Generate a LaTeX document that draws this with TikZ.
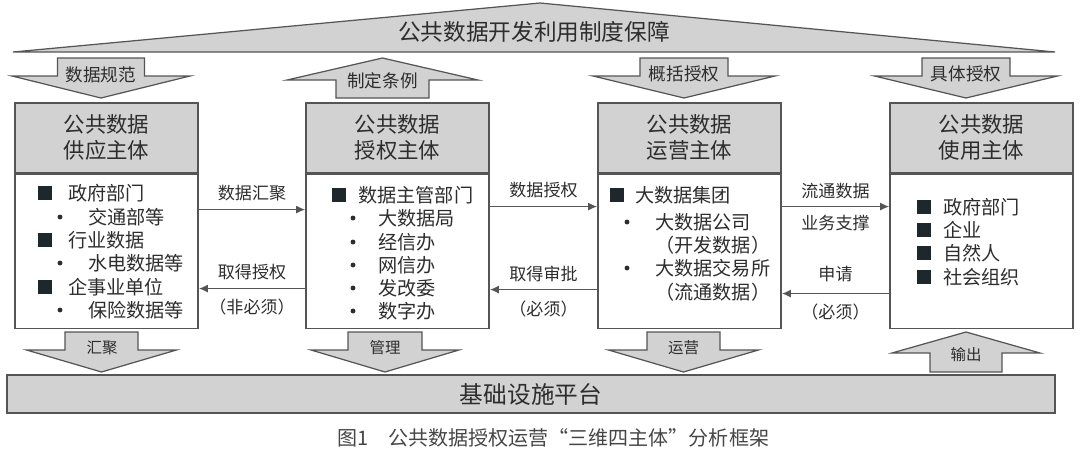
\documentclass[tikz,border=0pt]{standalone}
\usepackage{fontspec}
\setmainfont{Noto Sans CJK SC}
\usepackage{xcolor}
\usetikzlibrary{positioning,arrows.meta,calc}

\definecolor{boxgray}{RGB}{210,210,210}
\definecolor{linegray}{RGB}{85,85,85}
\definecolor{txtgray}{RGB}{45,45,45}
\definecolor{sqcol}{RGB}{30,40,44}
\definecolor{capgray}{RGB}{70,70,70}

% block arrows: centre x, shaft half width, head half width, then three y values
\newcommand{\blkdown}[6]{\draw[blk] (#1-#2,#4) -- (#1+#2,#4) -- (#1+#2,#5) -- (#1+#3,#5) -- (#1,#6) -- (#1-#3,#5) -- (#1-#2,#5) -- cycle;}
\newcommand{\blkup}[6]{\draw[blk] (#1,#4) -- (#1+#3,#5) -- (#1+#2,#5) -- (#1+#2,#6) -- (#1-#2,#6) -- (#1-#2,#5) -- (#1-#3,#5) -- cycle;}

\tikzset{
  blk/.style={draw=linegray, fill=boxgray, line width=0.7pt},
  hdr/.style={draw=linegray, fill=boxgray, line width=0.9pt, minimum width=3.67cm, minimum height=1.4cm,
    inner sep=0pt, align=center, font=\fontsize{12.2}{14.8}\selectfont, text=txtgray},
  bodybox/.style={draw=linegray, fill=white, line width=0.9pt, minimum width=3.67cm, minimum height=3.08cm, inner sep=0pt},
  item/.style={anchor=west, inner sep=0pt, font=\fontsize{10.9}{13}\selectfont, text=txtgray},
  lbl/.style={font=\fontsize{9.7}{12}\selectfont, text=txtgray},
  arrlbl/.style={font=\fontsize{10}{12}\selectfont, text=txtgray, inner sep=0pt},
  smlbl/.style={font=\fontsize{8.8}{11}\selectfont, text=txtgray, inner sep=0pt},
  flow/.style={draw=linegray, line width=0.6pt, -{Latex[length=5pt,width=4.5pt]}},
}

\begin{document}
\begin{tikzpicture}[x=0.02cm, y=-0.02cm]
  \useasboundingbox (0,0) rectangle (1080,450);

  % top banner
  \draw[blk] (13,52) -- (540,3) -- (1055,52) -- cycle;
  \node[font=\fontsize{12.9}{15}\selectfont, text=txtgray] (title) at (534,32) {公共数据开发利用制度保障};

  % top block arrows
  \blkdown{101}{43.5}{89}{58}{76}{98}
  \node[arrlbl] (norm) at (101,75) {数据规范};
  \blkup{382.5}{46.5}{95.5}{58}{80}{98}
  \node[arrlbl] (rule) at (382.5,81) {制定条例};
  \blkdown{684}{44}{91}{58}{76}{98}
  \node[arrlbl] (gen) at (684,74) {概括授权};
  \blkdown{966}{44}{91.5}{58}{76}{98}
  \node[arrlbl] (spec) at (966,74) {具体授权};

  % the four subjects
  \node[hdr, anchor=north west] (supH) at (14,102) {公共数据\\供应主体};
  \node[bodybox, anchor=north] (supB) at (supH.south) {};
  \node[hdr, anchor=north west] (autH) at (305,102) {公共数据\\授权主体};
  \node[bodybox, anchor=north] (autB) at (autH.south) {};
  \node[hdr, anchor=north west] (opeH) at (597,102) {公共数据\\运营主体};
  \node[bodybox, anchor=north] (opeB) at (opeH.south) {};
  \node[hdr, anchor=north west] (useH) at (889,102) {公共数据\\使用主体};
  \node[bodybox, anchor=north] (useB) at (useH.south) {};

  % supply items
  \foreach \t/\yy [count=\i] in {政府部门/193, 行业数据/240, 企事业单位/287} {
    \fill[sqcol] (38,\yy-7) rectangle +(14,14);
    \node[item] (supA\i) at (68,\yy) {\t};
  }
  \foreach \t/\yy [count=\i] in {交通部等/217, 水电数据等/263, 保险数据等/310} {
    \fill[txtgray] (60,\yy) circle (1.4pt);
    \node[item] (supS\i) at (88,\yy) {\t};
  }

  % authorising items
  \fill[sqcol] (332,188) rectangle +(14,14);
  \node[item] (autA) at (358,195) {数据主管部门};
  \foreach \t/\yy [count=\i] in {大数据局/218, 经信办/242, 网信办/265, 发改委/288, 数字办/311} {
    \fill[txtgray] (353,\yy) circle (1.4pt);
    \node[item] (autS\i) at (378,\yy) {\t};
  }

  % operating items
  \fill[sqcol] (610,188) rectangle +(14,14);
  \node[item] (opeA) at (635,195) {大数据集团};
  \fill[txtgray] (627,222) circle (1.4pt);
  \node[item] (opeS1) at (655,222) {大数据公司};
  \node[item] (opeP1) at (655,245) {（开发数据）};
  \fill[txtgray] (627,268) circle (1.4pt);
  \node[item] (opeS2) at (655,268) {大数据交易所};
  \node[item] (opeP2) at (655,292) {（流通数据）};

  % using items
  \foreach \t/\yy [count=\i] in {政府部门/207, 企业/230, 自然人/253, 社会组织/277} {
    \fill[sqcol] (917,\yy-7) rectangle +(14,14);
    \node[item] (useA\i) at (943,\yy) {\t};
  }

  % flows between subjects
  \draw[flow] ($(supB.north east)+(0,36)$) -- node[lbl, above=1pt] (gather) {数据汇聚} ($(autB.north west)+(0,36)$);
  \draw[flow] ($(autB.north west)+(0,115)$) -- node[lbl, above=1.5pt] (getauth) {取得授权}
    node[lbl, below=2pt] (notneed) {（非必须）} ($(supB.north east)+(0,115)$);
  \draw[flow] ($(autB.north east)+(0,33)$) -- node[lbl, above=1pt] (grant) {数据授权} ($(opeB.north west)+(0,33)$);
  \draw[flow] ($(opeB.north west)+(0,116)$) -- node[lbl, above=1pt] (approve) {取得审批}
    node[lbl, below=3pt] (need1) {（必须）} ($(autB.north east)+(0,116)$);
  \draw[flow] ($(opeB.north east)+(0,33)$) -- node[lbl, above=1pt] (circ) {流通数据}
    node[lbl, below=1.5pt] (support) {业务支撑} ($(useB.north west)+(0,33)$);
  \draw[flow] ($(useB.north west)+(0,120)$) -- node[lbl, above=3pt] (apply) {申请}
    node[lbl, below=2pt] (need2) {（必须）} ($(opeB.north east)+(0,120)$);

  % bottom block arrows
  \blkdown{101.5}{36.5}{75}{332}{350}{372}
  \node[smlbl] (conv) at (102,348) {汇聚};
  \blkdown{385}{37}{74}{332}{350}{372}
  \node[smlbl] (manage) at (385,348) {管理};
  \blkdown{683.5}{36.5}{75}{332}{350}{372}
  \node[smlbl] (operate) at (683.5,348) {运营};
  \blkup{966}{36}{74}{332}{353}{372}
  \node[smlbl] (output) at (966,355) {输出};

  % platform
  \node[draw=linegray, fill=boxgray, line width=0.7pt, minimum width=20.96cm, minimum height=0.76cm,
    font=\fontsize{13.5}{16}\selectfont, text=txtgray] (platform) at (531,394) {基础设施平台};

  % caption
  \node[anchor=west, inner sep=0pt, font=\fontsize{11.4}{13}\selectfont, text=capgray] (cap) at (337,438)
    {图1　公共数据授权运营“三维四主体”分析框架};
\end{tikzpicture}
\end{document}
